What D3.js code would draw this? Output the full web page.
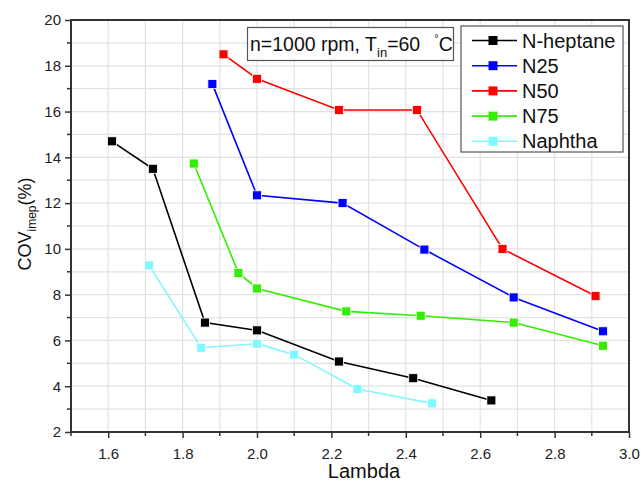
<!DOCTYPE html>
<html>
<head>
<meta charset="utf-8">
<script src="https://cdn.jsdelivr.net/npm/d3@7"></script>
<style>
  html, body { margin: 0; padding: 0; background: #fff; }
  svg { display: block; font-family: "Liberation Sans", Arial, sans-serif; }
</style>
</head>
<body>
<div id="chart"></div>
<script>
// data
const seriesNames = ["N-heptane", "N25", "N50", "N75", "Naphtha"];
const seriesColors = ["#000000", "#0000ff", "#ff0000", "#33ee00", "#80f8ff"];

const lambdaHeptane = [1.61, 1.72, 1.86, 2.0, 2.22, 2.42, 2.63];
const covHeptane = [14.7, 13.5, 6.78, 6.44, 5.08, 4.35, 3.38];

const lambdaN25 = [1.88, 2.0, 2.23, 2.45, 2.69, 2.93];
const covN25 = [17.2, 12.34, 12.0, 9.97, 7.88, 6.4];

const lambdaN50 = [1.91, 2.0, 2.22, 2.43, 2.66, 2.91];
const covN50 = [18.5, 17.43, 16.07, 16.07, 10.0, 7.94];

const lambdaN75 = [1.83, 1.95, 2.0, 2.24, 2.44, 2.69, 2.93];
const covN75 = [13.73, 8.95, 8.27, 7.27, 7.08, 6.78, 5.77];

const lambdaNaphtha = [1.71, 1.85, 2.0, 2.1, 2.27, 2.47];
const covNaphtha = [9.28, 5.68, 5.86, 5.38, 3.88, 3.25];

const xTicks = [1.6, 1.8, 2.0, 2.2, 2.4, 2.6, 2.8, 3.0];
const yTicks = [2, 4, 6, 8, 10, 12, 14, 16, 18, 20];

const seriesX = [lambdaHeptane, lambdaN25, lambdaN50, lambdaN75, lambdaNaphtha];
const seriesY = [covHeptane, covN25, covN50, covN75, covNaphtha];

const width = 641, height = 481;
const margin = { left: 71, right: 12, top: 20, bottom: 49 };

const svg = d3.select("#chart").append("svg")
  .attr("width", width)
  .attr("height", height);

const x = d3.scaleLinear().domain([1.5, 3.0]).range([margin.left, width - margin.right]);
const y = d3.scaleLinear().domain([2, 20]).range([height - margin.bottom, margin.top]);

// grid every 0.1 / 1
const gridX = d3.range(16).map(i => 1.5 + i * 0.1);
const gridY = d3.range(2, 21, 1);

svg.append("g").selectAll("line")
  .data(gridX)
  .enter().append("line")
  .attr("x1", d => x(d)).attr("x2", d => x(d))
  .attr("y1", y(2)).attr("y2", y(20))
  .attr("stroke", "#e2e2e2")
  .attr("stroke-width", 1.2);

svg.append("g").selectAll("line")
  .data(gridY)
  .enter().append("line")
  .attr("x1", x(1.5)).attr("x2", x(3.0))
  .attr("y1", d => y(d)).attr("y2", d => y(d))
  .attr("stroke", "#e2e2e2")
  .attr("stroke-width", 1.2);

// axes
const xAxis = svg.append("g")
  .attr("transform", `translate(0,${y(2)})`)
  .call(d3.axisBottom(x).tickValues(xTicks).tickFormat(d3.format(".1f")).tickSize(6).tickPadding(10));

const yAxis = svg.append("g")
  .attr("transform", `translate(${x(1.5)},0)`)
  .call(d3.axisLeft(y).tickValues(yTicks).tickSize(6).tickPadding(4));

// minor ticks
svg.append("g").selectAll("line")
  .data(gridX.filter((d, i) => i % 2 === 0))
  .enter().append("line")
  .attr("x1", d => x(d)).attr("x2", d => x(d))
  .attr("y1", y(2)).attr("y2", y(2) + 4)
  .attr("stroke", "#333").attr("stroke-width", 1.5);

svg.append("g").selectAll("line")
  .data(d3.range(3, 20, 2))
  .enter().append("line")
  .attr("x1", x(1.5) - 4).attr("x2", x(1.5))
  .attr("y1", d => y(d)).attr("y2", d => y(d))
  .attr("stroke", "#333").attr("stroke-width", 1.5);

[xAxis, yAxis].forEach(a => {
  a.select(".domain").remove();
  a.selectAll(".tick line").attr("stroke", "#333").attr("stroke-width", 1.5);
  a.selectAll(".tick text")
    .attr("fill", "#222")
    .style("font-size", "15px")
    .style("font-family", "Liberation Sans, Arial, sans-serif");
});

// frame
svg.append("rect")
  .attr("x", x(1.5)).attr("y", y(20))
  .attr("width", x(3.0) - x(1.5))
  .attr("height", y(2) - y(20))
  .attr("fill", "none")
  .attr("stroke", "#333")
  .attr("stroke-width", 2);

// series
const line = d3.line().x(d => x(d[0])).y(d => y(d[1]));
const ms = 9;

seriesNames.forEach((name, i) => {
  const pts = d3.zip(seriesX[i], seriesY[i]);
  const g = svg.append("g");
  g.append("path")
    .datum(pts)
    .attr("d", line)
    .attr("fill", "none")
    .attr("stroke", seriesColors[i])
    .attr("stroke-width", 1.6);
  g.selectAll("rect")
    .data(pts)
    .enter().append("rect")
    .attr("x", d => x(d[0]) - ms / 2)
    .attr("y", d => y(d[1]) - ms / 2)
    .attr("width", ms).attr("height", ms)
    .attr("fill", seriesColors[i])
    .attr("stroke", "#fff")
    .attr("stroke-width", 0.8);
});

// annotation box
const note = svg.append("g");
note.append("rect")
  .attr("x", 247.5).attr("y", 27.5)
  .attr("width", 206).attr("height", 33)
  .attr("fill", "#fff")
  .attr("stroke", "#555")
  .attr("stroke-width", 1.2);
const noteText = note.append("text")
  .attr("x", 250).attr("y", 51)
  .attr("fill", "#111")
  .style("font-size", "19.5px");
noteText.append("tspan").text("n=1000 rpm, T");
noteText.append("tspan").attr("dy", 6).style("font-size", "13px").text("in");
noteText.append("tspan").attr("dy", -6).text("=60");
noteText.append("tspan").attr("dx", 14).attr("dy", -9).style("font-size", "11px").text("°");
noteText.append("tspan").attr("dy", 9).text("C");

// legend
const legend = svg.append("g");
legend.append("rect")
  .attr("x", 461).attr("y", 26)
  .attr("width", 162).attr("height", 126)
  .attr("fill", "#fff")
  .attr("stroke", "#555")
  .attr("stroke-width", 1.2);

const row = legend.selectAll("g")
  .data(seriesNames)
  .enter().append("g")
  .attr("transform", (d, i) => `translate(0,${40.5 + i * 25.2})`);

row.append("line")
  .attr("x1", 472).attr("x2", 517)
  .attr("stroke", (d, i) => seriesColors[i])
  .attr("stroke-width", 1.6);
row.append("rect")
  .attr("x", 493 - ms / 2).attr("y", -ms / 2)
  .attr("width", ms).attr("height", ms)
  .attr("fill", (d, i) => seriesColors[i]);
row.append("text")
  .attr("x", 522).attr("y", 7)
  .attr("fill", "#111")
  .style("font-size", "20px")
  .text(d => d);

// axis titles
svg.append("text")
  .attr("x", 364).attr("y", 478)
  .attr("text-anchor", "middle")
  .attr("fill", "#111")
  .style("font-size", "20px")
  .text("Lambda");

const yTitle = svg.append("text")
  .attr("transform", `translate(31,224) rotate(-90)`)
  .attr("text-anchor", "middle")
  .attr("fill", "#111")
  .style("font-size", "18px");
yTitle.append("tspan").text("COV");
yTitle.append("tspan").attr("dy", 5).style("font-size", "12px").text("imep");
yTitle.append("tspan").attr("dy", -5).text("(%)");
</script>
</body>
</html>
